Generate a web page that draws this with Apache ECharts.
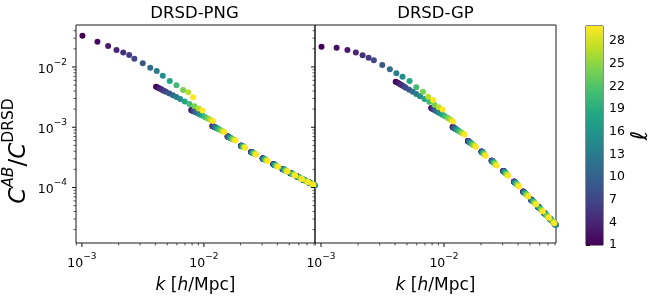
<!DOCTYPE html>
<html><head><meta charset="utf-8">
<script src="https://cdn.jsdelivr.net/npm/echarts@6/dist/echarts.min.js"></script>
<style>html,body{margin:0;padding:0;background:#fff;}#c{width:661px;height:303px;}</style>
</head><body><div id="c"></div>
<script>
// multipole values sampled
const ells = [1,2,3,4,5,6,7,9,11,13,15,18,21,24,27,30];
// k of each mode branch, in units of 1e-3 h/Mpc (one value per ell above)
const kB1  = [1.01,1.34,1.64,1.92,2.18,2.44,2.69,3.15,3.63,4.10,4.60,5.25,5.95,6.75,7.45,8.15];
const kB2  = [4.05,4.17,4.30,4.43,4.57,4.73,4.89,5.21,5.57,5.95,6.38,6.96,7.61,8.36,9.05,9.75];
const kB3  = [7.88,7.94,8.01,8.08,8.16,8.25,8.34,8.53,8.76,9.01,9.29,9.70,10.17,10.75,11.30,11.86];
const kB4  = [11.75,11.79,11.84,11.89,11.94,12.00,12.07,12.20,12.36,12.54,12.74,13.04,13.40,13.84,14.27,14.72];
const kB5  = [15.64,15.67,15.70,15.74,15.78,15.83,15.88,15.98,16.10,16.24,16.41,16.66,16.96,17.34,17.72,18.14];
const kB6  = [20.20,20.22,20.24,20.26,20.29,20.32,20.35,20.42,20.50,20.59,20.69,20.85,21.04,21.28,21.54,21.80];
const kB7  = [24.40,24.43,24.46,24.49,24.54,24.58,24.63,24.72,24.85,24.98,25.14,25.37,25.66,26.03,26.40,26.80];
const kB8  = [30.30,30.34,30.38,30.42,30.47,30.52,30.59,30.71,30.86,31.03,31.23,31.51,31.88,32.33,32.81,33.30];
const kB9  = [37.10,37.15,37.19,37.24,37.31,37.37,37.45,37.59,37.77,37.97,38.21,38.55,38.99,39.54,40.11,40.70];
const kB10 = [44.10,44.16,44.21,44.27,44.35,44.43,44.52,44.69,44.92,45.17,45.46,45.88,46.41,47.08,47.77,48.50];
const kB11 = [51.10,51.17,51.23,51.30,51.39,51.47,51.58,51.78,52.04,52.32,52.65,53.12,53.73,54.49,55.28,56.10];
const kB12 = [58.10,58.17,58.25,58.32,58.42,58.51,58.64,58.86,59.15,59.46,59.83,60.36,61.05,61.90,62.78,63.70];
const kB13 = [65.10,65.18,65.26,65.34,65.45,65.56,65.70,65.94,66.26,66.61,67.02,67.60,68.36,69.30,70.28,71.30];
const kB14 = [72.10,72.19,72.28,72.37,72.49,72.60,72.75,73.02,73.37,73.75,74.20,74.85,75.68,76.71,77.78,78.90];
const kB15 = [79.10,79.20,79.29,79.39,79.52,79.65,79.81,80.10,80.48,80.90,81.39,82.09,82.99,84.12,85.28,86.50];

// C^AB / C^DRSD, DRSD-PNG panel
const pngB1  = [3.30e-2,2.63e-2,2.23e-2,1.91e-2,1.73e-2,1.58e-2,1.374e-2,1.15e-2,9.73e-3,8.59e-3,7.18e-3,5.86e-3,4.97e-3,4.16e-3,3.80e-3,3.15e-3];
const pngB2  = [4.71e-3,4.57e-3,4.43e-3,4.29e-3,4.15e-3,4.01e-3,3.87e-3,3.62e-3,3.38e-3,3.16e-3,2.94e-3,2.68e-3,2.44e-3,2.22e-3,2.04e-3,1.89e-3];
const pngB3  = [1.936e-3,1.921e-3,1.903e-3,1.886e-3,1.867e-3,1.846e-3,1.825e-3,1.783e-3,1.734e-3,1.684e-3,1.631e-3,1.560e-3,1.485e-3,1.402e-3,1.331e-3,1.265e-3];
const pngB4  = [1.051e-3,1.047e-3,1.043e-3,1.038e-3,1.034e-3,1.028e-3,1.022e-3,1.011e-3,9.97e-4,9.82e-4,9.66e-4,9.43e-4,9.17e-4,8.86e-4,8.59e-4,8.31e-4];
const pngB5  = [7.04e-4,7.03e-4,7.01e-4,6.99e-4,6.98e-4,6.95e-4,6.93e-4,6.88e-4,6.83e-4,6.77e-4,6.70e-4,6.59e-4,6.47e-4,6.32e-4,6.18e-4,6.03e-4];
const pngB6  = [4.95e-4,4.95e-4,4.94e-4,4.94e-4,4.93e-4,4.92e-4,4.91e-4,4.90e-4,4.88e-4,4.86e-4,4.83e-4,4.80e-4,4.75e-4,4.69e-4,4.64e-4,4.57e-4];
const pngB7  = [3.88e-4,3.88e-4,3.87e-4,3.87e-4,3.86e-4,3.85e-4,3.85e-4,3.83e-4,3.81e-4,3.79e-4,3.77e-4,3.73e-4,3.69e-4,3.64e-4,3.58e-4,3.52e-4];
const pngB8  = [3.04e-4,3.04e-4,3.03e-4,3.03e-4,3.02e-4,3.02e-4,3.01e-4,3.00e-4,2.99e-4,2.97e-4,2.95e-4,2.93e-4,2.89e-4,2.85e-4,2.80e-4,2.76e-4];
const pngB9  = [2.43e-4,2.43e-4,2.42e-4,2.42e-4,2.42e-4,2.41e-4,2.41e-4,2.40e-4,2.39e-4,2.38e-4,2.36e-4,2.34e-4,2.31e-4,2.28e-4,2.24e-4,2.21e-4];
const pngB10 = [2.03e-4,2.03e-4,2.03e-4,2.02e-4,2.02e-4,2.02e-4,2.01e-4,2.00e-4,1.99e-4,1.98e-4,1.97e-4,1.95e-4,1.93e-4,1.90e-4,1.87e-4,1.84e-4];
const pngB11 = [1.740e-4,1.738e-4,1.736e-4,1.734e-4,1.731e-4,1.728e-4,1.725e-4,1.718e-4,1.710e-4,1.701e-4,1.690e-4,1.675e-4,1.655e-4,1.631e-4,1.606e-4,1.579e-4];
const pngB12 = [1.522e-4,1.520e-4,1.518e-4,1.517e-4,1.514e-4,1.512e-4,1.509e-4,1.503e-4,1.496e-4,1.488e-4,1.479e-4,1.466e-4,1.449e-4,1.428e-4,1.406e-4,1.383e-4];
const pngB13 = [1.352e-4,1.350e-4,1.349e-4,1.347e-4,1.345e-4,1.343e-4,1.340e-4,1.336e-4,1.329e-4,1.322e-4,1.314e-4,1.303e-4,1.288e-4,1.269e-4,1.250e-4,1.230e-4];
const pngB14 = [1.220e-4,1.219e-4,1.217e-4,1.216e-4,1.214e-4,1.212e-4,1.210e-4,1.205e-4,1.200e-4,1.194e-4,1.186e-4,1.176e-4,1.163e-4,1.146e-4,1.129e-4,1.111e-4];
const pngB15 = [1.109e-4,1.108e-4,1.106e-4,1.105e-4,1.103e-4,1.102e-4,1.100e-4,1.096e-4,1.091e-4,1.085e-4,1.078e-4,1.069e-4,1.057e-4,1.042e-4,1.026e-4,1.010e-4];

// C^AB / C^DRSD, DRSD-GP panel
const gpB1  = [2.17e-2,2.09e-2,1.91e-2,1.73e-2,1.56e-2,1.426e-2,1.29e-2,1.079e-2,9.16e-3,7.87e-3,6.91e-3,5.86e-3,4.60e-3,3.89e-3,3.21e-3,2.84e-3];
const gpB2  = [5.71e-3,5.51e-3,5.31e-3,5.12e-3,4.93e-3,4.73e-3,4.54e-3,4.20e-3,3.87e-3,3.57e-3,3.28e-3,2.95e-3,2.64e-3,2.36e-3,2.14e-3,1.96e-3];
const gpB3  = [2.09e-3,2.07e-3,2.05e-3,2.03e-3,2.00e-3,1.97e-3,1.95e-3,1.89e-3,1.83e-3,1.77e-3,1.70e-3,1.61e-3,1.52e-3,1.42e-3,1.33e-3,1.25e-3];
const gpB4  = [1.012e-3,1.008e-3,1.002e-3,9.97e-4,9.91e-4,9.85e-4,9.77e-4,9.64e-4,9.48e-4,9.30e-4,9.11e-4,8.84e-4,8.53e-4,8.18e-4,7.86e-4,7.55e-4];
const gpB5  = [5.93e-4,5.91e-4,5.90e-4,5.87e-4,5.85e-4,5.82e-4,5.80e-4,5.74e-4,5.68e-4,5.60e-4,5.52e-4,5.39e-4,5.25e-4,5.08e-4,4.92e-4,4.75e-4];
const gpB6  = [3.94e-4,3.93e-4,3.93e-4,3.92e-4,3.91e-4,3.90e-4,3.89e-4,3.86e-4,3.84e-4,3.80e-4,3.77e-4,3.71e-4,3.65e-4,3.56e-4,3.47e-4,3.38e-4];
const gpB7  = [2.79e-4,2.78e-4,2.78e-4,2.77e-4,2.76e-4,2.75e-4,2.74e-4,2.73e-4,2.70e-4,2.67e-4,2.64e-4,2.60e-4,2.54e-4,2.47e-4,2.39e-4,2.31e-4];
const gpB8  = [1.885e-4,1.881e-4,1.877e-4,1.872e-4,1.867e-4,1.861e-4,1.854e-4,1.841e-4,1.824e-4,1.806e-4,1.785e-4,1.754e-4,1.714e-4,1.665e-4,1.614e-4,1.561e-4];
const gpB9  = [1.252e-4,1.249e-4,1.246e-4,1.244e-4,1.240e-4,1.236e-4,1.232e-4,1.223e-4,1.212e-4,1.201e-4,1.187e-4,1.166e-4,1.141e-4,1.109e-4,1.075e-4,1.040e-4];
const gpB10 = [8.55e-5,8.53e-5,8.51e-5,8.49e-5,8.47e-5,8.44e-5,8.41e-5,8.35e-5,8.27e-5,8.19e-5,8.09e-5,7.95e-5,7.77e-5,7.55e-5,7.31e-5,7.07e-5];
const gpB11 = [6.30e-5,6.29e-5,6.27e-5,6.26e-5,6.24e-5,6.22e-5,6.20e-5,6.16e-5,6.10e-5,6.04e-5,5.97e-5,5.87e-5,5.74e-5,5.57e-5,5.40e-5,5.23e-5];
const gpB12 = [4.80e-5,4.79e-5,4.78e-5,4.77e-5,4.75e-5,4.74e-5,4.72e-5,4.69e-5,4.65e-5,4.60e-5,4.55e-5,4.47e-5,4.38e-5,4.25e-5,4.13e-5,3.99e-5];
const gpB13 = [3.78e-5,3.77e-5,3.76e-5,3.76e-5,3.74e-5,3.73e-5,3.72e-5,3.69e-5,3.66e-5,3.63e-5,3.59e-5,3.53e-5,3.45e-5,3.35e-5,3.25e-5,3.15e-5];
const gpB14 = [3.06e-5,3.05e-5,3.05e-5,3.04e-5,3.03e-5,3.02e-5,3.01e-5,2.99e-5,2.97e-5,2.94e-5,2.90e-5,2.86e-5,2.79e-5,2.72e-5,2.64e-5,2.56e-5];
const gpB15 = [2.52e-5,2.51e-5,2.51e-5,2.50e-5,2.50e-5,2.49e-5,2.48e-5,2.46e-5,2.44e-5,2.42e-5,2.39e-5,2.35e-5,2.30e-5,2.24e-5,2.18e-5,2.11e-5];

// axis ticks
const kMajorTicks = [1e-3, 1e-2];
const kMinorTicks = [9e-4,2e-3,3e-3,4e-3,5e-3,6e-3,7e-3,8e-3,9e-3,2e-2,3e-2,4e-2,5e-2,6e-2,7e-2,8e-2];
const yMajorTicks = [1e-4, 1e-3, 1e-2];
const yMinorTicks = [2e-5,3e-5,4e-5,5e-5,6e-5,7e-5,8e-5,9e-5,2e-4,3e-4,4e-4,5e-4,6e-4,7e-4,8e-4,9e-4,2e-3,3e-3,4e-3,5e-3,6e-3,7e-3,8e-3,9e-3,2e-2,3e-2,4e-2];
const cbTicks = [1,4,7,10,13,16,19,22,25,28];
const K_MIN = 8.94e-4, K_MAX = 0.0814, Y_MIN = 1.2e-5, Y_MAX = 0.0497;
const ELL_MIN = 1, ELL_MAX = 30;
const viridis = ['#440154','#482475','#414487','#355f8d','#2a788e','#21918c','#22a884','#44bf70','#7ad151','#bddf26','#fde725'];

const kBranches = [kB1,kB2,kB3,kB4,kB5,kB6,kB7,kB8,kB9,kB10,kB11,kB12,kB13,kB14,kB15];
const pngBranches = [pngB1,pngB2,pngB3,pngB4,pngB5,pngB6,pngB7,pngB8,pngB9,pngB10,pngB11,pngB12,pngB13,pngB14,pngB15];
const gpBranches = [gpB1,gpB2,gpB3,gpB4,gpB5,gpB6,gpB7,gpB8,gpB9,gpB10,gpB11,gpB12,gpB13,gpB14,gpB15];

function buildPoints(yBranches) {
  const pts = [];
  for (let i = 0; i < ells.length; i++) {
    for (let b = 0; b < kBranches.length; b++) {
      pts.push([kBranches[b][i] * 1e-3, yBranches[b][i], ells[i]]);
    }
  }
  return pts;
}

const FONT = 'DejaVu Sans';
const TXT = '#000';

function powLabel(v) {
  const e = Math.log10(v);
  const r = Math.round(e);
  if (Math.abs(e - r) > 1e-6) return '';
  return '{b|10}{s|\u2212' + Math.abs(r) + '}';
}
const powRich = {
  b: {fontSize: 12.5, fontFamily: FONT, color: TXT, lineHeight: 18, verticalAlign: 'bottom'},
  s: {fontSize: 9, fontFamily: FONT, color: TXT, lineHeight: 10, verticalAlign: 'top'}
};

function tickSeries(gi, data, dir, len, width) {
  return {
    type: 'custom', xAxisIndex: gi, yAxisIndex: gi, silent: true, clip: false, z: 6,
    data: data,
    renderItem: function (params, api) {
      const p = api.coord([api.value(0), api.value(1)]);
      const shape = dir === 'x'
        ? {x1: p[0], y1: p[1], x2: p[0], y2: p[1] + len}
        : {x1: p[0], y1: p[1], x2: p[0] - len, y2: p[1]};
      return {type: 'line', shape: shape, style: {stroke: '#111', lineWidth: width}};
    }
  };
}

function logX(gi) {
  return {
    type: 'log', gridIndex: gi, min: K_MIN, max: K_MAX, logBase: 10,
    axisLine: {show: false}, axisTick: {show: false}, splitLine: {show: false}, minorTick: {show: false},
    axisLabel: {formatter: powLabel, rich: powRich, margin: 9, showMinLabel: true, showMaxLabel: true},
    name: '{i|k} [{i|h}/Mpc]', nameLocation: 'middle', nameGap: 34,
    nameTextStyle: {fontSize: 17, fontFamily: FONT, color: TXT,
      rich: {i: {fontSize: 17, fontFamily: FONT, fontStyle: 'italic', color: TXT}}}
  };
}
function logY(gi, labels) {
  const ax = {
    type: 'log', gridIndex: gi, min: Y_MIN, max: Y_MAX, logBase: 10,
    axisLine: {show: false}, axisTick: {show: false}, splitLine: {show: false}, minorTick: {show: false},
    axisLabel: labels ? {formatter: powLabel, rich: powRich, margin: 9} : {show: false}
  };
  if (labels) {
    ax.name = '{c|C}{u|AB}{n|/}{c|C}{r|DRSD}';
    ax.nameLocation = 'middle';
    ax.nameGap = 45;
    ax.nameRotate = 90;
    ax.nameTextStyle = {fontFamily: FONT, color: TXT, padding: [0, 34, 0, 0], rich: {
      c: {fontSize: 23, fontFamily: FONT, fontStyle: 'italic', color: TXT, lineHeight: 30, verticalAlign: 'bottom'},
      n: {fontSize: 23, fontFamily: FONT, color: TXT, lineHeight: 30, verticalAlign: 'bottom'},
      u: {fontSize: 15.5, fontFamily: FONT, fontStyle: 'italic', color: TXT, lineHeight: 17, verticalAlign: 'top'},
      r: {fontSize: 15.5, fontFamily: FONT, color: TXT, lineHeight: 17, verticalAlign: 'top'}
    }};
  }
  return ax;
}

const chart = echarts.init(document.getElementById('c'), null, {renderer: 'canvas'});
const grids = [
  {left: 74, top: 25, width: 241, height: 218},
  {left: 315, top: 25, width: 241, height: 218},
  {left: 586, top: 26, width: 17, height: 219}
].map(g => Object.assign({show: true, borderColor: '#1a1a1a', borderWidth: 1, backgroundColor: 'transparent', containLabel: false}, g));

const series = [
  {type: 'scatter', xAxisIndex: 0, yAxisIndex: 0, data: buildPoints(pngBranches), symbolSize: 6, clip: true, silent: true, z: 3, itemStyle: {opacity: 1}},
  {type: 'scatter', xAxisIndex: 1, yAxisIndex: 1, data: buildPoints(gpBranches), symbolSize: 6, clip: true, silent: true, z: 3, itemStyle: {opacity: 1}},
  {
    type: 'custom', xAxisIndex: 2, yAxisIndex: 2, silent: true, clip: false, z: 2,
    data: [[0, ELL_MIN, 1, ELL_MAX]],
    renderItem: function (params, api) {
      const p0 = api.coord([api.value(0), api.value(1)]);
      const p1 = api.coord([api.value(2), api.value(3)]);
      return {type: 'rect', shape: {x: p0[0], y: p1[1], width: p1[0] - p0[0], height: p0[1] - p1[1]},
        style: {fill: new echarts.graphic.LinearGradient(0, 1, 0, 0,
          viridis.map((c, i) => ({offset: i / (viridis.length - 1), color: c})))}};
    }
  }
];
[0, 1].forEach(gi => {
  series.push(tickSeries(gi, kMajorTicks.map(v => [v, Y_MIN]), 'x', 4, 1));
  series.push(tickSeries(gi, kMinorTicks.map(v => [v, Y_MIN]), 'x', 2.5, 0.7));
  series.push(tickSeries(gi, yMajorTicks.map(v => [K_MIN, v]), 'y', 4, 1));
  series.push(tickSeries(gi, yMinorTicks.map(v => [K_MIN, v]), 'y', 2.5, 0.7));
});

chart.setOption({
  animation: false,
  backgroundColor: '#fff',
  grid: grids,
  xAxis: [logX(0), logX(1), {type: 'value', gridIndex: 2, min: 0, max: 1, show: false}],
  yAxis: [logY(0, true), logY(1, false), {
    type: 'value', gridIndex: 2, min: ELL_MIN, max: ELL_MAX, position: 'right',
    axisLine: {show: false}, splitLine: {show: false},
    axisTick: {show: true, inside: false, length: 4, customValues: cbTicks, lineStyle: {color: '#111', width: 1}},
    axisLabel: {show: true, customValues: cbTicks, margin: 6, fontSize: 12.5, fontFamily: FONT, color: TXT},
    name: '\u2113', nameLocation: 'middle', nameGap: 27, nameRotate: 90,
    nameTextStyle: {fontSize: 23, fontFamily: FONT, fontStyle: 'italic', color: TXT}
  }],
  visualMap: {show: false, type: 'continuous', min: ELL_MIN, max: ELL_MAX, dimension: 2, seriesIndex: [0, 1], inRange: {color: viridis}},
  graphic: [
    {type: 'text', x: 194.5, y: 14, style: {text: 'DRSD-PNG', fontSize: 16.5, fontFamily: FONT, fill: TXT, align: 'center', verticalAlign: 'middle', textAlign: 'center', textVerticalAlign: 'middle'}},
    {type: 'text', x: 435.5, y: 14, style: {text: 'DRSD-GP', fontSize: 16.5, fontFamily: FONT, fill: TXT, align: 'center', verticalAlign: 'middle', textAlign: 'center', textVerticalAlign: 'middle'}}
  ],
  series: series
});
</script>
</body></html>
